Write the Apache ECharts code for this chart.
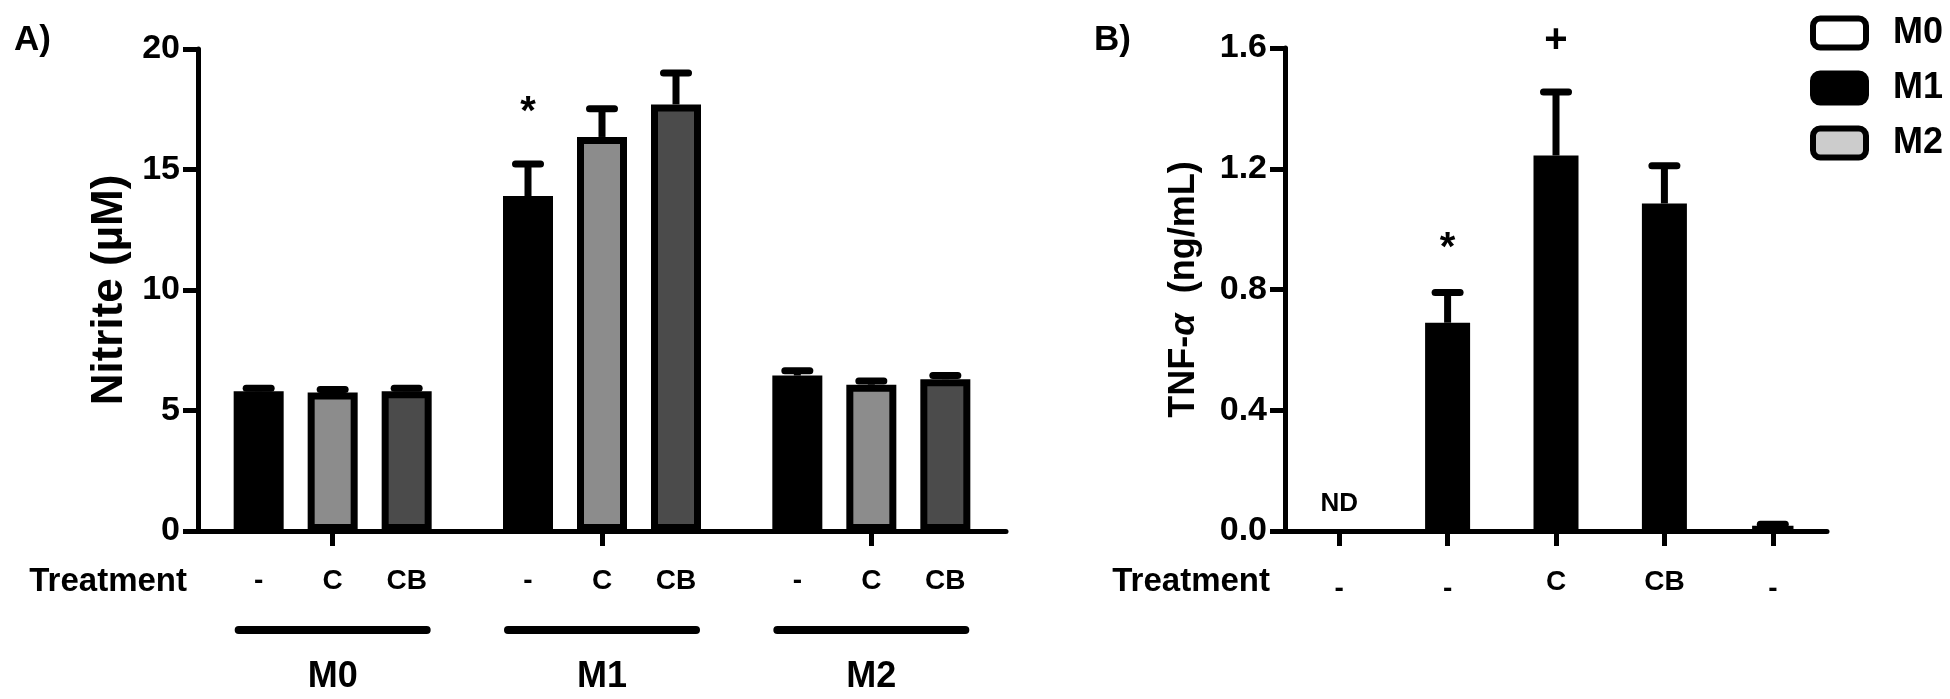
<!DOCTYPE html>
<html>
<head>
<meta charset="utf-8">
<script src="https://cdn.jsdelivr.net/npm/echarts@6/dist/echarts.min.js"></script>
<style>
html,body{margin:0;padding:0;background:#fff;}
#chart{width:1950px;height:699px;}
</style>
</head>
<body>
<div id="chart"></div>
<script>
// ---------- Panel A data (Nitrite, µM) ----------
const groupsA = ['M0', 'M1', 'M2'];
const treatmentsA = ['-', 'C', 'CB'];
const nitriteNone = [5.8, 13.9, 6.45];
const nitriteC = [5.75, 16.35, 6.07];
const nitriteCB = [5.8, 17.7, 6.3];
const nitriteNoneErr = [0.12, 1.33, 0.2];
const nitriteCErr = [0.12, 1.17, 0.15];
const nitriteCBErr = [0.12, 1.3, 0.15];
const nitriteNoneMarks = ['', '*', ''];
const nitriteCMarks = ['', '', ''];
const nitriteCBMarks = ['', '', ''];

// ---------- Panel B data (TNF-α, ng/mL) ----------
const treatmentsB = ['-', '-', 'C', 'CB', '-'];
const tnfM0 = [0, null, null, null, null];
const tnfM1 = [null, 0.69, 1.244, 1.085, null];
const tnfM2 = [null, null, null, null, 0.012];
const tnfM1Err = [null, 0.10, 0.21, 0.125, null];
const tnfM2Err = [null, null, null, null, 0.01];
const tnfM1Marks = ['', '*', '+', '', ''];
const tnfM0Label = 'ND';

const FONT = '"Liberation Sans", Arial, Helvetica, sans-serif';
const BAR_W_A = 50, GAP_A = 0.48;
const BAR_W_B = 45;

function toBarData(arr) { return arr.map(v => (v === null ? '-' : v)); }
function toErrData(vals, errs) {
  const out = [];
  vals.forEach((v, i) => { if (v !== null && errs[i] !== null) out.push([i, v, errs[i]]); });
  return out;
}
function errRender(offsetPx, marks, starLift) {
  return function (params, api) {
    const i = api.value(0), v = api.value(1), e = api.value(2);
    const base = api.coord([i, v]);
    const tip = api.coord([i, v + e]);
    const x = base[0] + offsetPx;
    const children = [
      { type: 'line', shape: { x1: x, y1: base[1], x2: x, y2: tip[1] }, style: { stroke: '#000', lineWidth: 7 } },
      { type: 'line', shape: { x1: x - 12.5, y1: tip[1], x2: x + 12.5, y2: tip[1] }, style: { stroke: '#000', lineWidth: 7, lineCap: 'round' } }
    ];
    const m = marks[i];
    if (m) {
      children.push({ type: 'text', style: { text: m, x: x, y: tip[1] - (m === '*' ? starLift : 51), align: 'center', verticalAlign: 'middle', font: 'bold 40px ' + FONT, fill: '#000' } });
    }
    return { type: 'group', children: children };
  };
}

const step = BAR_W_A * (1 + GAP_A);
const colorsA = ['#000000', '#8c8c8c', '#4b4b4b'];
const valsA = [nitriteNone, nitriteC, nitriteCB];
const errsA = [nitriteNoneErr, nitriteCErr, nitriteCBErr];
const marksA = [nitriteNoneMarks, nitriteCMarks, nitriteCBMarks];

const series = [];
treatmentsA.forEach((t, k) => {
  series.push({
    type: 'bar', name: t, xAxisIndex: 0, yAxisIndex: 0,
    data: valsA[k], barWidth: BAR_W_A, barGap: (GAP_A * 100) + '%',
    itemStyle: { color: colorsA[k], borderColor: '#000', borderWidth: 7 },
    label: { show: true, position: 'bottom', distance: 36, formatter: t, color: '#000', fontFamily: FONT, fontWeight: 'bold', fontSize: 28 },
    emphasis: { disabled: true }, animation: false
  });
});
treatmentsA.forEach((t, k) => {
  series.push({
    type: 'custom', name: 'err' + t, xAxisIndex: 0, yAxisIndex: 0,
    data: toErrData(valsA[k], errsA[k]), encode: { x: 0, y: 1 },
    renderItem: errRender((k - 1) * step, marksA[k], 51), z: 5, animation: false, silent: true
  });
});

series.push({
  type: 'bar', name: 'M0', xAxisIndex: 1, yAxisIndex: 1, data: toBarData(tnfM0),
  barWidth: BAR_W_B, barGap: '-100%',
  itemStyle: { color: '#ffffff', borderColor: '#000', borderWidth: 0 },
  label: { show: true, position: 'top', distance: 14, formatter: tnfM0Label, color: '#000', fontFamily: FONT, fontWeight: 'bold', fontSize: 26 },
  emphasis: { disabled: true }, animation: false
});
series.push({
  type: 'bar', name: 'M1', xAxisIndex: 1, yAxisIndex: 1, data: toBarData(tnfM1),
  barWidth: BAR_W_B, barGap: '-100%',
  itemStyle: { color: '#000000', borderColor: '#000', borderWidth: 7 },
  emphasis: { disabled: true }, animation: false
});
series.push({
  type: 'bar', name: 'M2', xAxisIndex: 1, yAxisIndex: 1, data: toBarData(tnfM2),
  barWidth: BAR_W_B, barGap: '-100%',
  itemStyle: { color: '#cccccc', borderColor: '#000', borderWidth: 7 },
  emphasis: { disabled: true }, animation: false
});
series.push({
  type: 'custom', name: 'errM1', xAxisIndex: 1, yAxisIndex: 1,
  data: toErrData(tnfM1, tnfM1Err), encode: { x: 0, y: 1 },
  renderItem: errRender(0, tnfM1Marks, 44), z: 5, animation: false, silent: true
});
series.push({
  type: 'custom', name: 'errM2', xAxisIndex: 1, yAxisIndex: 1,
  data: toErrData(tnfM2, tnfM2Err), encode: { x: 0, y: 1 },
  renderItem: errRender(0, ['', '', '', '', ''], 44), z: 5, animation: false, silent: true
});

const axisLineStyle = { lineStyle: { color: '#000', width: 5 } };
const tickStyle = { show: true, length: 15, lineStyle: { color: '#000', width: 5 } };
const tickLabel = { color: '#000', fontFamily: FONT, fontWeight: 'bold', fontSize: 34 };
const treatNameStyle = { color: '#000', fontFamily: FONT, fontWeight: 'bold', fontSize: 33, verticalAlign: 'top', padding: [34, 0, 0, 0] };

const option = {
  backgroundColor: '#ffffff',
  animation: false,
  textStyle: { fontFamily: FONT },
  title: [
    { text: 'A)', left: 9, top: 18, textStyle: { fontFamily: FONT, fontWeight: 'bold', fontSize: 35, color: '#000' } },
    { text: 'B)', left: 1089, top: 18, textStyle: { fontFamily: FONT, fontWeight: 'bold', fontSize: 35, color: '#000' } }
  ],
  legend: {
    data: ['M0', 'M1', 'M2'], orient: 'vertical', left: 1805, top: 10,
    itemWidth: 53, itemHeight: 29, itemGap: 19, icon: 'roundRect',
    itemStyle: { borderColor: '#000', borderWidth: 6 },
    textStyle: { color: '#000', fontFamily: FONT, fontWeight: 'bold', fontSize: 36, lineHeight: 36, padding: [0, 0, 0, 22] },
    selectedMode: false
  },
  grid: [
    { left: 198, top: 49, width: 808, height: 482 },
    { left: 1285, top: 48, width: 542, height: 483 }
  ],
  xAxis: [
    {
      type: 'category', gridIndex: 0, data: groupsA,
      axisLine: axisLineStyle, axisTick: Object.assign({ alignWithLabel: true }, tickStyle),
      axisLabel: {
        margin: 95, interval: 0,
        formatter: v => '{line| }\n{name|' + v + '}',
        rich: {
          line: { width: 196, height: 8, lineHeight: 8, backgroundColor: '#000', borderRadius: 4, align: 'center', fontSize: 4 },
          name: { fontFamily: FONT, fontWeight: 'bold', fontSize: 36, lineHeight: 86, color: '#000', align: 'center' }
        }
      },
      name: 'Treatment', nameLocation: 'start', nameGap: 11,
      nameTextStyle: treatNameStyle
    },
    {
      type: 'category', gridIndex: 1, data: treatmentsB,
      axisLine: axisLineStyle, axisTick: Object.assign({ alignWithLabel: true }, tickStyle),
      axisLabel: {
        margin: 37, interval: 0, color: '#000', fontFamily: FONT, fontWeight: 'bold', fontSize: 28,
        formatter: v => (v === '-' ? '{d|-}' : v),
        rich: { d: { color: '#000', fontFamily: FONT, fontWeight: 'bold', fontSize: 28, padding: [7, 0, 0, 0] } }
      },
      name: 'Treatment', nameLocation: 'start', nameGap: 15,
      nameTextStyle: treatNameStyle
    }
  ],
  yAxis: [
    {
      type: 'value', gridIndex: 0, min: 0, max: 20, interval: 5,
      axisLine: Object.assign({ show: true }, axisLineStyle), axisTick: tickStyle,
      axisLabel: Object.assign({ margin: 18 }, tickLabel), splitLine: { show: false },
      name: 'Nitrite (µM)', nameLocation: 'middle', nameGap: 66,
      nameTextStyle: { color: '#000', fontFamily: FONT, fontWeight: 'bold', fontSize: 44 }
    },
    {
      type: 'value', gridIndex: 1, min: 0, max: 1.6, interval: 0.4,
      axisLine: Object.assign({ show: true }, axisLineStyle), axisTick: tickStyle,
      axisLabel: Object.assign({ margin: 18, formatter: v => v.toFixed(1) }, tickLabel), splitLine: { show: false },
      name: '{n|TNF-}{a|α}{n|  (ng/mL)}', nameLocation: 'middle', nameGap: 83,
      nameTextStyle: {
        color: '#000', fontFamily: FONT, fontWeight: 'bold', fontSize: 36,
        rich: {
          n: { color: '#000', fontFamily: FONT, fontWeight: 'bold', fontSize: 36 },
          a: { color: '#000', fontFamily: FONT, fontWeight: 'bold', fontStyle: 'italic', fontSize: 36 }
        }
      }
    }
  ],
  series: series
};

const chart = echarts.init(document.getElementById('chart'), null, { renderer: 'canvas' });
chart.setOption(option);
</script>
</body>
</html>
